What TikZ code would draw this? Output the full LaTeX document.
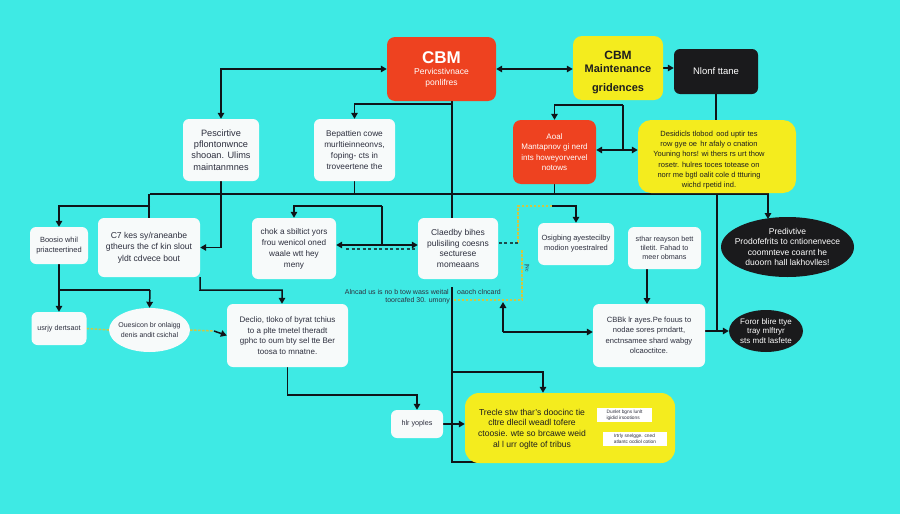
\documentclass[tikz,border=0pt]{standalone}
\usepackage{fontspec}
\setmainfont{Liberation Sans}
\usetikzlibrary{arrows.meta,shapes.geometric,calc}
\definecolor{bg}{RGB}{62,234,228}
\definecolor{rd}{RGB}{238,66,32}
\definecolor{yl}{RGB}{244,236,30}
\definecolor{bk}{RGB}{26,26,28}
\definecolor{wh}{RGB}{247,250,250}
\definecolor{txt}{RGB}{45,47,62}
\definecolor{txt2}{RGB}{30,30,30}
\definecolor{ln}{RGB}{15,20,25}
\definecolor{ydc}{RGB}{205,200,70}
\pgfdeclarelayer{back}
\pgfdeclarelayer{lines}
\pgfsetlayers{back,lines,main}
\begin{document}
\begin{tikzpicture}[x=1pt,y=-1pt,
  conn/.style={draw=ln, line width=1.5pt},
  arr/.style={conn,-{Triangle[length=6pt,width=6.5pt]}},
  darr/.style={conn,{Triangle[length=6pt,width=6.5pt]}-{Triangle[length=6pt,width=6.5pt]}},
  ydash/.style={draw=ydc, line width=1.5pt, dash pattern=on 2.5pt off 1.5pt},
  kdash/.style={draw=ln!75!bg, line width=1.2pt, dash pattern=on 3pt off 2.5pt},
  sz/.style 2 args={minimum width=#1pt, minimum height=#2pt},
  wbox/.style={fill=wh, rounded corners=6pt, align=center, text=txt, inner sep=1pt, font=\fontsize{8}{10.5}\selectfont},
  rbox/.style={fill=rd, rounded corners=8pt, align=center, text=white, inner sep=1pt, font=\fontsize{8}{10.5}\selectfont},
  ybox/.style={fill=yl, rounded corners=13pt, align=center, text=txt2, inner sep=1pt, font=\fontsize{7.5}{10.3}\selectfont},
  kbox/.style={fill=bk, rounded corners=6pt, align=center, text=white, inner sep=1pt, font=\fontsize{9.5}{11}\selectfont},
  well/.style={ellipse, fill=wh, align=center, text=txt, inner sep=0pt, font=\fontsize{7}{9.5}\selectfont},
  kell/.style={ellipse, fill=bk, align=center, text=white, inner sep=0pt, font=\fontsize{8.5}{10.3}\selectfont},
  ovl/.style={align=center, inner sep=0pt},
  lab/.style={text=txt, inner sep=0pt, font=\fontsize{7}{9}\selectfont},
  tiny/.style={fill=white, inner sep=0.5pt, align=left, text=txt, font=\fontsize{4.8}{5.6}\selectfont},
]
\begin{pgfonlayer}{back}
\fill[bg] (0,0) rectangle (900,514);
\end{pgfonlayer}
\useasboundingbox (0,0) rectangle (900,514);

% ---------- nodes ----------
\node[rbox, sz={109}{64}, font=\fontsize{8.5}{10.5}\selectfont] (cbm) at (441.5,69) {{\fontsize{17}{18}\selectfont\bfseries CBM}\\[1pt]Pervicstivnace\\ponlifres};
\node[ybox, sz={90}{64}, rounded corners=9pt] (cbmy) at (618,68) {};
\node[ovl, text=txt2, font=\fontsize{11}{13}\selectfont\bfseries] (cbmyt) at (618,72) {{\fontsize{12}{13}\selectfont CBM}\\Maintenance\\[6pt]gridences};
\node[kbox, sz={84}{45}] (nlon) at (716,71.5) {Nlonf ttane};

\node[wbox, sz={76}{62}, font=\fontsize{9.2}{11.2}\selectfont] (n4) at (221,150) {Pescirtive\\pflontonwnce\\shooan. Ulims\\maintanmnes};
\node[wbox, sz={81}{62}, font=\fontsize{8.3}{11}\selectfont] (n5) at (354.5,150) {Bepattien cowe\\murltieinneonvs,\\foping- cts in\\troveertene the};
\node[rbox, sz={83}{64}] (n6) at (554.5,152) {Aoal\\Mantapnov gi nerd\\ints howeyorvervel\\notows};
\node[ybox, sz={158}{73}] (n7) at (717,156.5) {};
\node[ovl, text=txt2, font=\fontsize{7.5}{10.3}\selectfont] (n7t) at (709,160) {Desidicls tlobod\, ood uptir tes\\row gye oe\, hr afaly o cnation\\Youning hors! wi thers rs urt thow\\rosetr. hulres toces totease on\\norr me bgtl oalit cole d ttturing\\wichd rpetid ind.};

\node[wbox, sz={58}{37}, font=\fontsize{7.5}{10}\selectfont] (n8) at (59,245.5) {Boosio whil\\priacteertined};
\node[wbox, sz={102}{59}, font=\fontsize{8.6}{11.5}\selectfont] (n9) at (149,247.5) {C7 kes sy/raneanbe\\gtheurs the cf kin slout\\yldt cdvece bout};
\node[wbox, sz={84}{61}, font=\fontsize{8.2}{11}\selectfont] (n10) at (294,248.5) {chok a sbiltict yors\\frou wenicol oned\\waale wtt hey\\meny};
\node[wbox, sz={80}{61}, font=\fontsize{8.5}{10.5}\selectfont] (n11) at (458,248.5) {Claedby bihes\\pulisiling coesns\\secturese\\momeaans};
\node[wbox, sz={76}{42}, font=\fontsize{7.5}{10}\selectfont] (n12) at (576,244) {Osigbing ayestecilby\\modion yoestralred};
\node[wbox, sz={73}{42}, font=\fontsize{7.2}{9}\selectfont] (n13) at (664.5,248) {sthar reayson bett\\tiletit. Fahad to\\meer obmans};
\node[kell, sz={133}{60}, inner xsep=-9pt, inner ysep=-3pt] (e14) at (787.5,247) {Predivtive\\Prodofefrits to cntionenvece\\coomnteve coarnt he\\duoorn hall lakhovlles!};

\node[lab, anchor=east] (lab1) at (449,292) {Alncad us is no b tow wass weital};
\node[lab, anchor=east] (lab2) at (450,301) {toorcafed 30. umony};
\node[lab, anchor=west] (lab3) at (457,292) {oaoch clncard};
\node[lab, rotate=-90, font=\fontsize{5}{6}\selectfont] (lab4) at (527,268) {[Nc};

\node[wbox, sz={55}{33}, font=\fontsize{7.2}{9}\selectfont] (n16) at (59,328.5) {usrjy dertsaot};
\node[well, sz={81}{44}, inner xsep=-4pt] (e17) at (149.5,330) {Ouesicon br onlaigg\\denis andit csichal};
\node[wbox, sz={121}{63}] (n18) at (287.5,335.5) {Declio, tloko of byrat tchius\\to a plte tmetel theradt\\gphc to oum bty sel tte Ber\\toosa to mnatne.};
\node[wbox, sz={112}{63}, font=\fontsize{7.6}{10.5}\selectfont] (n19) at (649,335.5) {CBBk lr ayes.Pe fouus to\\nodae sores prndartt,\\enctnsamee shard wabgy\\olcaoctitce.};
\node[kell, sz={74}{42}, inner xsep=-3pt, inner ysep=-2pt, font=\fontsize{8}{9.3}\selectfont] (e20) at (766,331) {Foror blire ttye\\tray mlftryr\\sts mdt lasfete};

\node[wbox, sz={52}{28}, font=\fontsize{7.2}{9}\selectfont] (n21) at (417,424) {hlr yoples};
\node[ybox, sz={210}{70}, rounded corners=14pt] (n22) at (570,428) {};
\node[ovl, text=txt2, font=\fontsize{8.6}{10.7}\selectfont] (n22t) at (532,429) {Trecle stw thar's doocinc tie\\cltre dlecil weadl tofere\\ctoosie. wte so brcawe weid\\al l urr oglte of tribus};
\node[tiny, sz={55}{14}] (s1) at (624.5,415) {Dunlet bgns lunlt\\igidid irsootions};
\node[tiny, sz={64}{14}] (s2) at (635,439) {Irtrly snelgge. cned\\atlantc ocdiol cotion};

% ---------- junction coordinates ----------
\coordinate (bL) at (150,194);
\coordinate (bR) at (768,194);
\coordinate (j1) at (452,104);
\coordinate (k1) at (150,206);
\coordinate (k2) at (382,206);
\coordinate (k3) at (382,245);
\coordinate (m1) at (623,105);
\coordinate (m2) at (623,150);
\coordinate (p1) at (552,206);
\coordinate (p2) at (518,206);
\coordinate (p3) at (518,243);
\coordinate (p4) at (522,250);
\coordinate (p5) at (522,300);
\coordinate (p6) at (453,300);
\coordinate (q1) at (503,332);
\coordinate (q2) at (503,302);
\coordinate (r2) at (150,290);
\coordinate (s0) at (200,290);
\coordinate (s2) at (282,290);
\coordinate (u0) at (452,287);
\coordinate (u1) at (452,372);
\coordinate (u2) at (452,462);
\coordinate (u3) at (478,462);
\coordinate (x717) at (717,332);
\coordinate (x768) at (768,219);
\coordinate (x647) at (647,304);
\coordinate (e17r) at (214,331);

% ---------- connectors ----------
\begin{pgfonlayer}{lines}
\draw[darr] (n4.north) |- (cbm.west);
\draw[darr] (cbm.east) -- (cbm.east -| cbmy.west);
\draw[arr] (cbmy.east) -- (cbmy.east -| nlon.west);
\draw[conn] (cbm.south -| j1) -- (j1 |- n11.north);
\draw[arr] (j1) -| (n5.north);
\draw[conn] (bL) -- (bR);
\draw[arr] (n4.south) |- (n9.east);
\draw[conn] (n5.south) -- (n5.south |- bL);
\draw[conn] (n9.north) -- (n9.north |- bL);
\draw[arr] (k1) -| (n8.north);
\draw[arr] (k2) -| (n10.north);
\draw[conn] (k2) -- (k3);
\draw[arr] (k3) -- (k3 -| n10.east);
\draw[arr] (k3) -- (k3 -| n11.west);
\draw[kdash] ($(n10.east)+(10,0.5)$) -- ($(n11.west)+(-3,0.5)$);
\draw[arr] (m1) -| (n6.north);
\draw[conn] (m1) -- (m2);
\draw[arr] (m2) -- (m2 -| n6.east);
\draw[arr] (m2) -- (m2 -| n7.west);
\draw[conn] (n6.south) -- (n6.south |- bL);
\draw[conn] (nlon.south) -- (nlon.south |- n7.north);
\draw[conn] (n7.south -| x717) -- (x717);
\draw[arr] (n19.east |- e20.west) -- (e20.west);
\draw[arr] (n7.south -| x768) -- (x768);
\draw[arr] (n13.south -| x647) -- (x647);
\draw[arr] (p1) -| (n12.north);
\draw[ydash] (p1) -- (p2) -- (p3);
\draw[kdash] (p3) -- (p3 -| n11.east);
\draw[ydash] (p4) -- (p5) -- (p6);
\draw[arr] (q1) -- (q2);
\draw[arr] (q1) -- (q1 -| n19.west);
\draw[arr] (n8.south) -- (n16.north);
\draw[conn] (n8.south |- r2) -- (r2);
\draw[arr] (r2) -- (e17.north);
\draw[ydash] (n16.east) -- (e17.west);
\draw[ydash] (e17.east) -- (e17r);
\draw[arr] (e17r) -- (n18.west);
\draw[arr] (n9.south east) -- (s0) -- (s2) -- (s2 |- n18.north);
\draw[arr] (n18.south) -- ++(0,28) -| (n21.north);
\draw[arr] (n21.east) -- (n21.east -| n22.west);
\draw[conn] (u0) -- (u2) -- (u3);
\draw[arr] (u1) -| (n22.north -| 543,0);
\end{pgfonlayer}
\end{tikzpicture}
\end{document}
